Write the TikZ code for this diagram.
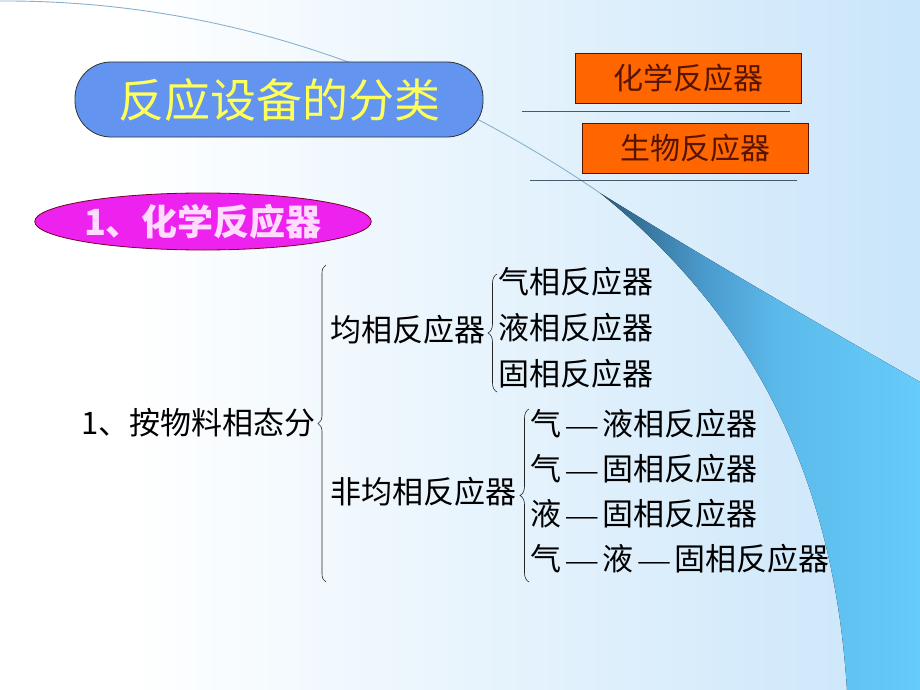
\documentclass[tikz,border=0pt]{standalone}
\usepackage{fontspec}
\newfontfamily\cjk{Noto Sans CJK SC}
\newfontfamily\dashfont{Liberation Serif}
\usetikzlibrary{positioning,shapes.geometric,decorations.pathreplacing,shadings}
\definecolor{titleblue}{RGB}{98,148,240}
\definecolor{titleyellow}{RGB}{255,255,90}
\definecolor{boxorange}{RGB}{255,102,0}
\definecolor{boxtext}{RGB}{85,20,0}
\definecolor{pinkfill}{RGB}{238,34,238}
\definecolor{pinktext}{RGB}{255,220,255}
\definecolor{rulegray}{RGB}{70,90,110}
\definecolor{arcblue}{RGB}{135,178,205}
\pgfdeclarehorizontalshading{backdrop}{100bp}{rgb(0bp)=(1,1,1); rgb(32bp)=(1,1,1); rgb(75bp)=(0.79,0.9,0.98); rgb(100bp)=(0.79,0.9,0.98)}
\pgfdeclarehorizontalshading{swoosh}{100bp}{rgb(0bp)=(0.17,0.36,0.48); rgb(25bp)=(0.17,0.36,0.48); rgb(41bp)=(0.29,0.6,0.8); rgb(53bp)=(0.36,0.73,0.92); rgb(75bp)=(0.4,0.8,0.98); rgb(100bp)=(0.4,0.8,0.98)}
\newcommand{\sep}{\,{\dashfont —}\,}
\tikzset{
    titlebox/.style={
        rectangle,
        rounded corners=36pt,
        draw=black!80, thick,
        fill=titleblue,
        text=titleyellow,
        minimum width=408pt,
        minimum height=75pt,
        font=\cjk\fontsize{46}{50}\selectfont
    },
    typebox/.style={
        rectangle,
        draw=boxtext, thick,
        fill=boxorange,
        text=boxtext,
        minimum width=226pt,
        minimum height=50pt,
        font=\cjk\fontsize{30}{34}\selectfont
    },
    headoval/.style={
        ellipse,
        draw=purple!60!black, thick,
        fill=pinkfill,
        text=pinktext,
        inner sep=0pt,
        minimum width=300pt,
        minimum height=57pt,
        font=\cjk\bfseries\fontsize{36}{40}\selectfont
    },
    item/.style={anchor=west, inner sep=0pt, font=\cjk\fontsize{31}{36}\selectfont},
    rule/.style={draw=rulegray, line width=0.8pt},
    arcline/.style={draw=arcblue, line width=0.9pt},
    curly/.style={decorate, decoration={brace, amplitude=#1}, draw=black!85, line width=0.6pt},
}
\begin{document}
\begin{tikzpicture}[x=1pt, y=-1pt]
\useasboundingbox (0,0) rectangle (920,690);
\fill[shading=backdrop] (0,0) rectangle (920,690);
\fill[shading=swoosh] (600,193) .. controls (700,255) and (820,325) .. (920,382)
  -- (920,690) -- (847,690) .. controls (835,500) and (770,330) .. (600,193) -- cycle;
\draw[arcline] (0,1) .. controls (220,0) and (420,70) .. (600,193);

% title and the two kinds
\node [titlebox] (title) at (279,99.5) {反应设备的分类};
\node [typebox] (chem) at (688.5,78) {化学反应器};
\node [typebox] (bio) at (695.5,148) {生物反应器};
\draw [rule] (522,111) -- (790,111);
\draw [rule] (530,180) -- (797,180);

\node [headoval] (head) at (203,221.5) {1、化学反应器};

% classification tree
\node [item, anchor=east] (phase) at (316,423) {1、按物料相态分};
\node [item] (homo) at (330,330) {均相反应器};
\node [item] (hetero) at (330,492) {非均相反应器};

\foreach \t [count=\y] in {气相反应器,液相反应器,固相反应器}
  \node [item] (homo-\y) at (498,236+46*\y) {\t};

\foreach \t [count=\y] in {气\sep 液相反应器,气\sep 固相反应器,液\sep 固相反应器,气\sep 液\sep 固相反应器}
  \node [item] (hetero-\y) at (530,379+45*\y) {\t};

\coordinate (all-top) at (326,265);
\coordinate (all-bot) at (326,582);
\coordinate (homo-top) at (497,274);
\coordinate (homo-bot) at (497,392);
\coordinate (hetero-top) at (529,409);
\coordinate (hetero-bot) at (529,582);

\draw [curly=8pt] (all-bot) -- (all-top);
\draw [curly=9pt] (homo-bot) -- (homo-top);
\draw [curly=9pt] (hetero-bot) -- (hetero-top);

\end{tikzpicture}
\end{document}
